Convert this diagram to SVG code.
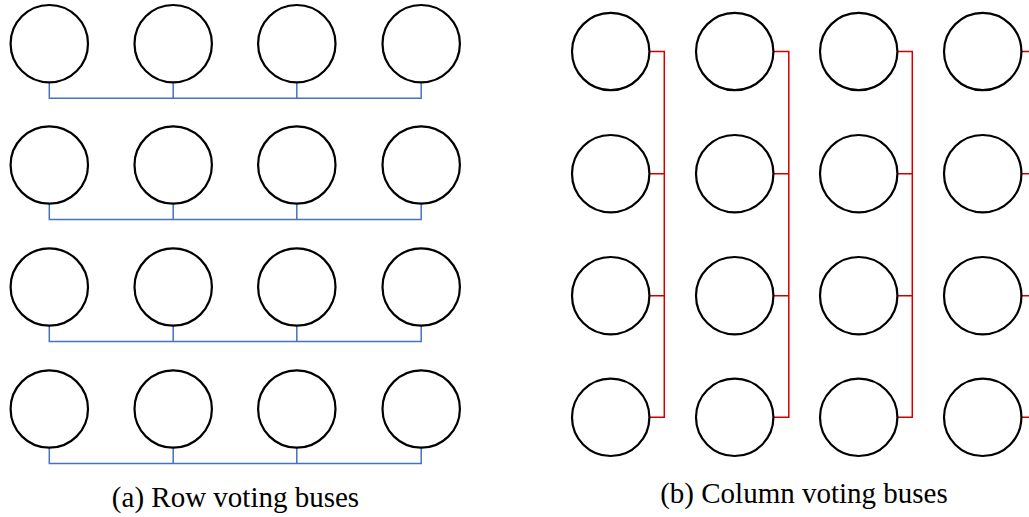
<svg xmlns="http://www.w3.org/2000/svg" width="1029" height="517" viewBox="0 0 1029 517">
  <style>
    .node { fill: none; stroke: #000; stroke-width: 2.2; }
    .row-bus { fill: none; stroke: #4472c4; stroke-width: 1.5; }
    .col-bus { fill: none; stroke: #d00000; stroke-width: 1.5; }
    .caption { font-size: 29px; fill: #000; text-anchor: middle; }
  </style>
  <rect width="1029" height="517" fill="#fff"/>

  <!-- (a) row voting buses: one bus beneath each row -->
  <g id="row-buses">
    <path class="row-bus" d="M49.3 82.5 V98.3 H421.2 V82.5 M173.2 82.5 V98.3 M296.8 82.5 V98.3"/>
    <path class="row-bus" d="M49.3 203.7 V219.5 H421.2 V203.7 M173.2 203.7 V219.5 M296.8 203.7 V219.5"/>
    <path class="row-bus" d="M49.3 325.7 V341.6 H421.2 V325.7 M173.2 325.7 V341.6 M296.8 325.7 V341.6"/>
    <path class="row-bus" d="M49.3 447.7 V463.6 H421.2 V447.7 M173.2 447.7 V463.6 M296.8 447.7 V463.6"/>
  </g>

  <g id="a-r1c1"><circle class="node" cx="49.3" cy="43.7" r="38.7"/></g>
  <g id="a-r1c2"><circle class="node" cx="173.2" cy="43.7" r="38.7"/></g>
  <g id="a-r1c3"><circle class="node" cx="296.8" cy="43.7" r="38.7"/></g>
  <g id="a-r1c4"><circle class="node" cx="421.2" cy="43.7" r="38.7"/></g>
  <g id="a-r2c1"><circle class="node" cx="49.3" cy="165" r="38.7"/></g>
  <g id="a-r2c2"><circle class="node" cx="173.2" cy="165" r="38.7"/></g>
  <g id="a-r2c3"><circle class="node" cx="296.8" cy="165" r="38.7"/></g>
  <g id="a-r2c4"><circle class="node" cx="421.2" cy="165" r="38.7"/></g>
  <g id="a-r3c1"><circle class="node" cx="49.3" cy="287" r="38.7"/></g>
  <g id="a-r3c2"><circle class="node" cx="173.2" cy="287" r="38.7"/></g>
  <g id="a-r3c3"><circle class="node" cx="296.8" cy="287" r="38.7"/></g>
  <g id="a-r3c4"><circle class="node" cx="421.2" cy="287" r="38.7"/></g>
  <g id="a-r4c1"><circle class="node" cx="49.3" cy="409" r="38.7"/></g>
  <g id="a-r4c2"><circle class="node" cx="173.2" cy="409" r="38.7"/></g>
  <g id="a-r4c3"><circle class="node" cx="296.8" cy="409" r="38.7"/></g>
  <g id="a-r4c4"><circle class="node" cx="421.2" cy="409" r="38.7"/></g>

  <text class="caption" font-family="'Liberation Serif', 'DejaVu Serif', serif" x="235.5" y="506.5">(a) Row voting buses</text>

  <!-- (b) column voting buses: one bus to the right of each column -->
  <g id="column-buses">
    <path class="col-bus" d="M649.4 51.5 H664.3 V417.3 H649.4 M649.4 173.7 H664.3 M649.4 295.7 H664.3"/>
    <path class="col-bus" d="M773.4 51.5 H788.8 V417.3 H773.4 M773.4 173.7 H788.8 M773.4 295.7 H788.8"/>
    <path class="col-bus" d="M897.4 51.5 H912.3 V417.3 H897.4 M897.4 173.7 H912.3 M897.4 295.7 H912.3"/>
    <path class="col-bus" d="M1021.4 51.5 H1036.3 V417.3 H1021.4 M1021.4 173.7 H1036.3 M1021.4 295.7 H1036.3"/>
  </g>

  <g id="b-r1c1"><circle class="node" cx="610.7" cy="51.5" r="38.7"/></g>
  <g id="b-r1c2"><circle class="node" cx="734.7" cy="51.5" r="38.7"/></g>
  <g id="b-r1c3"><circle class="node" cx="858.7" cy="51.5" r="38.7"/></g>
  <g id="b-r1c4"><circle class="node" cx="982.7" cy="51.5" r="38.7"/></g>
  <g id="b-r2c1"><circle class="node" cx="610.7" cy="173.7" r="38.7"/></g>
  <g id="b-r2c2"><circle class="node" cx="734.7" cy="173.7" r="38.7"/></g>
  <g id="b-r2c3"><circle class="node" cx="858.7" cy="173.7" r="38.7"/></g>
  <g id="b-r2c4"><circle class="node" cx="982.7" cy="173.7" r="38.7"/></g>
  <g id="b-r3c1"><circle class="node" cx="610.7" cy="295.7" r="38.7"/></g>
  <g id="b-r3c2"><circle class="node" cx="734.7" cy="295.7" r="38.7"/></g>
  <g id="b-r3c3"><circle class="node" cx="858.7" cy="295.7" r="38.7"/></g>
  <g id="b-r3c4"><circle class="node" cx="982.7" cy="295.7" r="38.7"/></g>
  <g id="b-r4c1"><circle class="node" cx="610.7" cy="417.3" r="38.7"/></g>
  <g id="b-r4c2"><circle class="node" cx="734.7" cy="417.3" r="38.7"/></g>
  <g id="b-r4c3"><circle class="node" cx="858.7" cy="417.3" r="38.7"/></g>
  <g id="b-r4c4"><circle class="node" cx="982.7" cy="417.3" r="38.7"/></g>

  <text class="caption" font-family="'Liberation Serif', 'DejaVu Serif', serif" x="804" y="503">(b) Column voting buses</text>
</svg>
